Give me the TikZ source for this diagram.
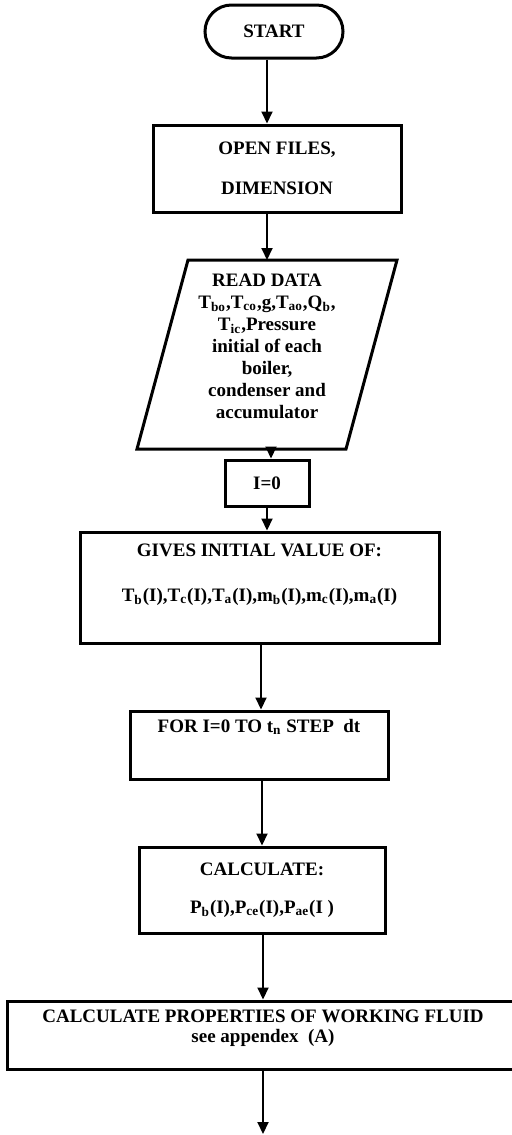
\documentclass[tikz,border=0pt]{standalone}
\usepackage{fontspec}
\setmainfont{Liberation Serif}
\usetikzlibrary{arrows.meta,shapes.misc}

\begin{document}
\begin{tikzpicture}[x=0.5pt, y=-0.5pt, line join=miter,
	box/.style={draw, line width=1.5pt, inner sep=0pt, align=center,
		font=\fontsize{9.5}{11}\selectfont\bfseries},
	txt/.style={inner sep=0pt, align=center,
		font=\fontsize{9.5}{11}\selectfont\bfseries},
	arr/.style={-{Triangle[width=5.5pt,length=6pt]}, line width=1pt}]
	
	\useasboundingbox (0,0) rectangle (511,1135);
	
	\node[box, rounded rectangle, minimum width=69pt, minimum height=26.5pt] (start) at (274,31.5) {START};
	\node[box, minimum width=124pt, minimum height=43.5pt] (files) at (277,168.5) {OPEN FILES,\\[9pt]DIMENSION};
	
	% parallelogram
	\coordinate (r1) at (188,260);
	\coordinate (r2) at (397,260);
	\coordinate (r3) at (346,449);
	\coordinate (r4) at (137,449);
	\coordinate (readin) at (267,260);
	\coordinate (readout) at (271,449);
	\draw[line width=1.5pt] (r1) -- (r2) -- (r3) -- (r4) -- cycle;
	\node[txt] (read) at (267,346) {READ DATA\\
		T\textsubscript{bo},T\textsubscript{co},g,T\textsubscript{ao},Q\textsubscript{b},\\
		T\textsubscript{ic},Pressure\\
		initial of each\\
		boiler,\\
		condenser and\\
		accumulator};
	
	\node[box, minimum width=42pt, minimum height=23pt] (izero) at (267,483) {I=0};
	
	\node[box, minimum width=179.5pt, minimum height=55.5pt] (gives) at (259.5,587.5) {};
	\node[txt] (givestxt) at (259.5,574.5) {GIVES INITIAL VALUE OF:\\[11.5pt]
		T\textsubscript{b}(I),T\textsubscript{c}(I),T\textsubscript{a}(I),m\textsubscript{b}(I),m\textsubscript{c}(I),m\textsubscript{a}(I)};
	
	\node[box, minimum width=129pt, minimum height=34pt] (for) at (259,745) {};
	\node[txt] (fortxt) at (259,727) {FOR I=0 TO t\textsubscript{n} STEP\ \ dt};
	
	\node[box, minimum width=123pt, minimum height=43pt] (calc) at (262,890) {CALCULATE:\\[8pt]
		P\textsubscript{b}(I),P\textsubscript{ce}(I),P\textsubscript{ae}(I )};
	
	\node[box, minimum width=253.5pt, minimum height=34pt] (props) at (260.5,1035) {};
	\node[txt] (propstxt) at (263,1028) {CALCULATE PROPERTIES OF WORKING FLUID\\[-1pt]
		see appendex\ \ (A)};
	
	\coordinate (stop) at (263,1134);
	
	\draw[arr] ([xshift=-3.5pt]start.south) -- ([xshift=-3.5pt]start.south |- files.north);
	\draw[arr] (readin |- files.south) -- (readin);
	\draw[arr] (readout) -- (readout |- izero.north);
	\draw[arr] (izero.south) -- (izero.south |- gives.north);
	\draw[arr] ([xshift=1pt]for.north |- gives.south) -- ([xshift=1pt]for.north);
	\draw[arr] (calc.north |- for.south) -- (calc.north);
	\draw[arr] ([xshift=0.5pt]calc.south) -- ([xshift=0.5pt]calc.south |- props.north);
	\draw[arr] (stop |- props.south) -- (stop);
	
\end{tikzpicture}
\end{document}
